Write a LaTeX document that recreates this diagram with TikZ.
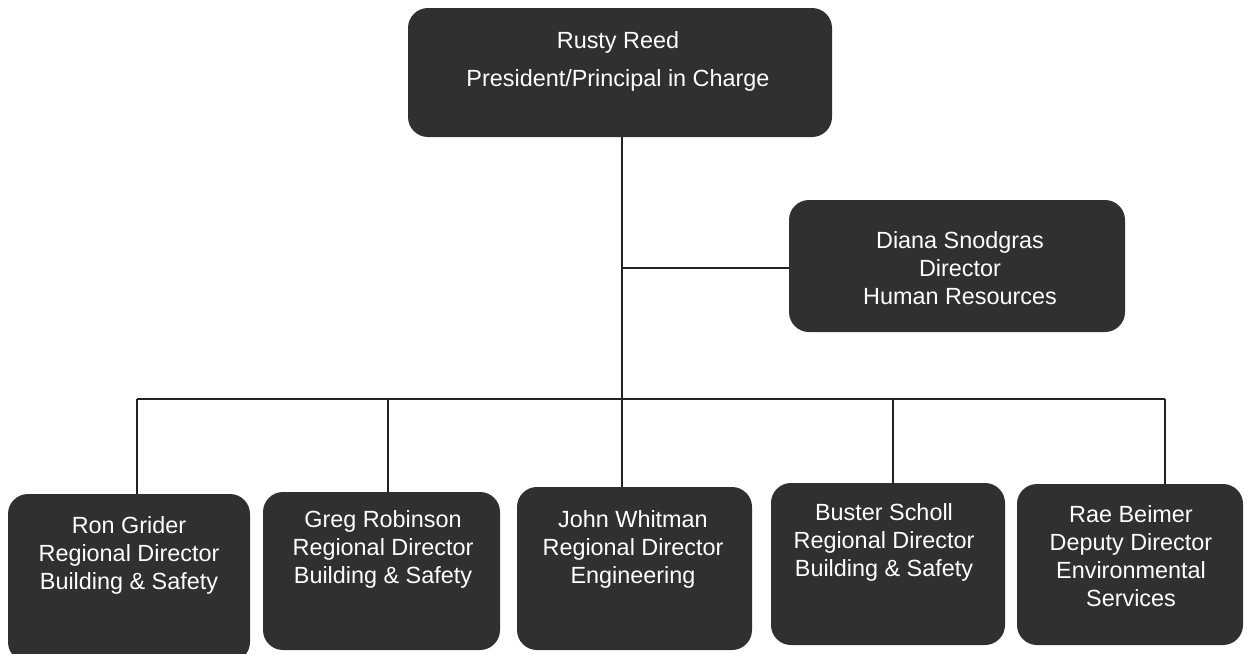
\documentclass[tikz,border=0pt]{standalone}
\usepackage{fontspec}
\setmainfont{Liberation Sans}
\begin{document}
\begin{tikzpicture}[x=0.5pt,y=-0.5pt,
  box/.style={fill=boxfill,rounded corners=10pt,inner sep=0pt,draw=none},
  lbl/.style={text=white,align=center,inner sep=0pt,font=\fontsize{11.7}{14}\selectfont},
  conn/.style={draw=linec,line width=0.9pt}]
\definecolor{boxfill}{HTML}{303030}
\definecolor{linec}{HTML}{222222}
\useasboundingbox (0,0) rectangle (1247,653);
% boxes
\node[box,minimum width=212pt,minimum height=64.5pt] (top) at (620,72.5) {};
\node[box,minimum width=168pt,minimum height=66pt] (hr) at (957,266) {};
\node[box,minimum width=121pt,minimum height=84pt] (ron) at (129,578) {};
\node[box,minimum width=118.5pt,minimum height=79pt] (greg) at (381.5,571) {};
\node[box,minimum width=117.5pt,minimum height=81.5pt] (john) at (634.5,568.5) {};
\node[box,minimum width=117pt,minimum height=81pt] (buster) at (888,564) {};
\node[box,minimum width=113pt,minimum height=80.5pt] (rae) at (1130,564.5) {};
% labels
\node[lbl,font=\fontsize{11.7}{19}\selectfont] (ttop) at (618,61) {Rusty Reed\\President/Principal in Charge};
\node[lbl] (thr) at (960,268) {Diana Snodgras\\Director\\Human Resources};
\node[lbl] (tron) at (129,555) {Ron Grider\\Regional Director\\Building \& Safety};
\node[lbl] (tgreg) at (383,549) {Greg Robinson\\Regional Director\\Building \& Safety};
\node[lbl] (tjohn) at (633,549) {John Whitman\\Regional Director\\Engineering};
\node[lbl] (tbuster) at (884,542) {Buster Scholl\\Regional Director\\Building \& Safety};
\node[lbl] (trae) at (1131,556) {Rae Beimer\\Deputy Director\\Environmental\\Services};
% connectors
\coordinate (trunk) at (622,137);
\coordinate (hrj) at (622,268);
\coordinate (bc) at (622,399);
\coordinate (b1) at (137,399);
\coordinate (b2) at (388,399);
\coordinate (b4) at (893,399);
\coordinate (b5) at (1165,399);
\draw[conn] (trunk) -- (bc) -- (bc |- john.north);
\draw[conn] (hrj) -- (hrj -| hr.west);
\draw[conn] (b1) -- (b5);
\draw[conn] (b1) -- (b1 |- ron.north);
\draw[conn] (b2) -- (b2 |- greg.north);
\draw[conn] (b4) -- (b4 |- buster.north);
\draw[conn] (b5) -- (b5 |- rae.north);
\end{tikzpicture}
\end{document}
